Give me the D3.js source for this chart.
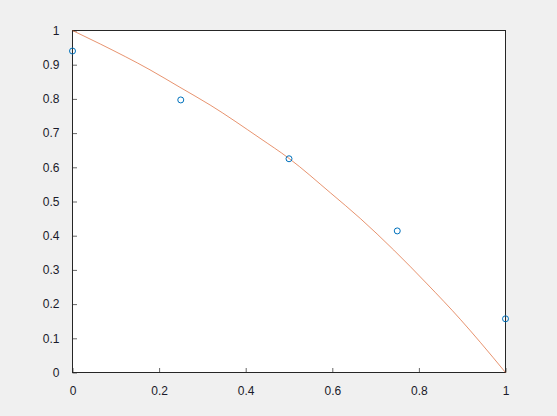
<!DOCTYPE html>
<html><head><meta charset="utf-8">
<script src="https://cdn.jsdelivr.net/npm/d3@7"></script>
<style>
html,body{margin:0;padding:0;background:#f0f0f0;}
svg{display:block;}
</style></head><body>
<script>
// Scatter data (blue circles)
const pointX = [0, 0.25, 0.5, 0.75, 1];
const pointY = [0.94, 0.797, 0.625, 0.414, 0.157];
// Fitted curve (orange line)
const curveX = [0, 0.065, 0.179, 0.248, 0.318, 0.433, 0.5, 0.596, 0.665, 0.742, 0.819, 0.896, 0.942, 1];
const curveY = [1, 0.96, 0.885, 0.834, 0.782, 0.685, 0.626, 0.525, 0.45, 0.358, 0.259, 0.155, 0.088, 0];
// Tick labels
const xTicks = [0, 0.2, 0.4, 0.6, 0.8, 1];
const yTicks = [0, 0.1, 0.2, 0.3, 0.4, 0.5, 0.6, 0.7, 0.8, 0.9, 1];

const W = 557, H = 416;
const mLeft = 72.5, mRight = 505.5, mTop = 30.5, mBottom = 372.5;

const svg = d3.select("body").append("svg").attr("width", W).attr("height", H);
svg.append("rect").attr("width", W).attr("height", H).attr("fill", "#f0f0f0");
svg.append("rect").attr("x", mLeft).attr("y", mTop).attr("width", mRight-mLeft).attr("height", mBottom-mTop).attr("fill", "#fff");

const x = d3.scaleLinear().domain([0, 1]).range([mLeft, mRight]);
const y = d3.scaleLinear().domain([0, 1]).range([mBottom, mTop]);

const fmt = d => d3.format("~g")(d);

// x axis
const xa = svg.append("g").attr("transform", `translate(0,${mBottom})`)
  .call(d3.axisBottom(x).tickValues(xTicks).tickFormat(fmt).tickSizeInner(-4.5).tickSizeOuter(0).tickPadding(14));
// y axis
const ya = svg.append("g").attr("transform", `translate(${mLeft},0)`)
  .call(d3.axisLeft(y).tickValues(yTicks).tickFormat(fmt).tickSizeInner(-4.5).tickSizeOuter(0).tickPadding(13));
[xa, ya].forEach(g => {
  g.select(".domain").remove();
  g.selectAll(".tick line").attr("stroke", "#262626").attr("stroke-width", 0.7);
  g.selectAll("text").attr("fill", "#1a1a2a").style("font-size", "12px").style("font-family", '"Liberation Sans",Arial,sans-serif');
});

// box
svg.append("rect").attr("x", mLeft).attr("y", mTop).attr("width", mRight-mLeft).attr("height", mBottom-mTop)
  .attr("fill", "none").attr("stroke", "#262626").attr("stroke-width", 1);

// curve
const curveData = curveX.map((d, i) => [d, curveY[i]]);
svg.append("path").datum(curveData)
  .attr("fill", "none").attr("stroke", "#D95319").attr("stroke-opacity", 0.7).attr("stroke-width", 0.9)
  .attr("d", d3.line().x(d => x(d[0])).y(d => y(d[1])).curve(d3.curveMonotoneX));

// points
svg.append("g").selectAll("circle").data(pointX.map((d, i) => [d, pointY[i]])).join("circle")
  .attr("cx", d => x(d[0])).attr("cy", d => y(d[1])).attr("r", 3)
  .attr("fill", "none").attr("stroke", "#0072BD").attr("stroke-width", 1);
</script>
</body></html>
